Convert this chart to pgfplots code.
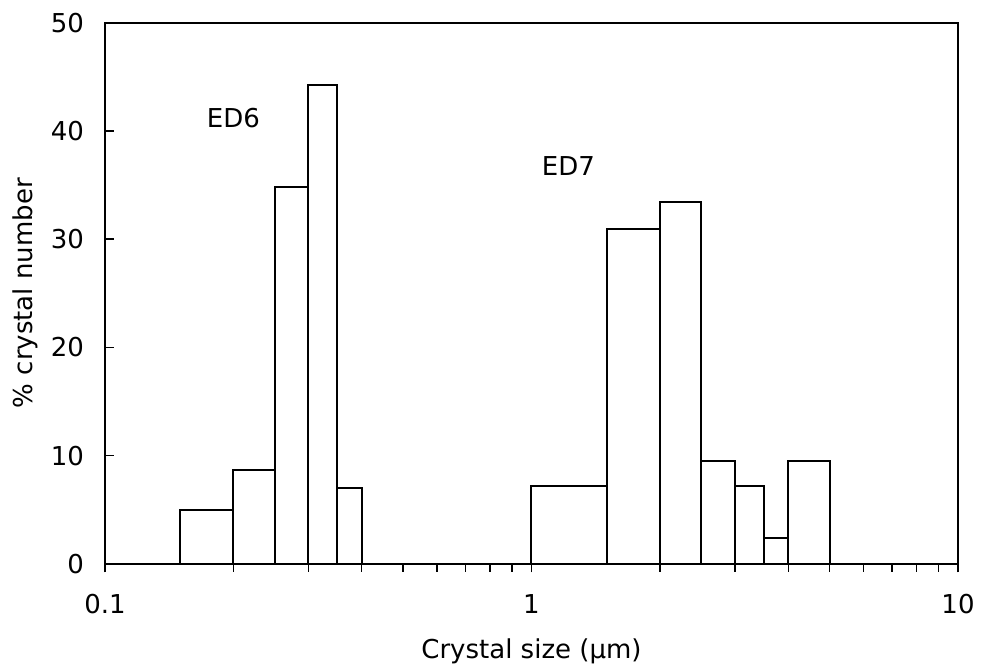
\documentclass[border=0pt]{standalone}
\usepackage{fontspec}
\setmainfont{DejaVu Sans}
\usepackage{pgfplots}
\pgfplotsset{compat=1.18}
\begin{document}
\fontsize{19.5pt}{23pt}\selectfont
\begin{tikzpicture}
\useasboundingbox (-78.75pt,-78pt) rectangle (658.75pt,423pt);
\begin{axis}[
  at={(0,0)}, anchor=south west,
  scale only axis, width=640pt, height=406pt,
  xmode=log, xmin=0.1, xmax=10,
  ymin=0, ymax=50, ytick={0,10,...,50},
  log ticks with fixed point,
  /pgf/number format/assume math mode=true,
  xtick pos=bottom, ytick pos=left,
  xtick align=outside, ytick align=inside,
  major tick length=6.5pt, minor tick length=6pt,
  every tick/.style={black, line width=1pt},
  axis line style={line width=1.5pt},
  tick label style={font=\fontsize{19.5pt}{23pt}\selectfont},
  xticklabel style={yshift=-9.5pt},
  yticklabel style={xshift=-9pt},
  clip=false,
]
% ED6 and ED7 size distributions (bin lower edge, percent)
\addplot[ybar interval, draw=black, fill=white, line width=1.5pt] coordinates {
  (0.15,5.0) (0.2,8.7) (0.25,34.8) (0.3,44.2) (0.35,7.0) (0.4,0)
  (1,7.2) (1.5,30.9) (2,33.4) (2.5,9.5) (3,7.2) (3.5,2.4) (4,9.5) (5,0)
};
\node at (axis cs:0.2,41.2) {ED6};
\node at (axis cs:1.22,36.75) {ED7};
% axis titles
\node at (axis description cs:0.5,-0.1625) {Crystal size (μm)};
\node[rotate=90] at (axis description cs:-0.0935,0.5) {\% crystal number};
\end{axis}
\end{tikzpicture}
\end{document}
